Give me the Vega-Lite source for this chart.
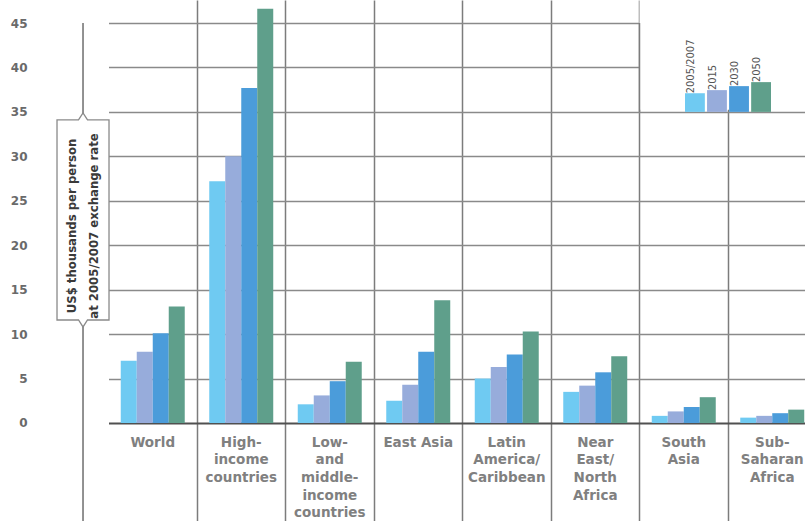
{
  "$schema": "https://vega.github.io/schema/vega-lite/v6.json",
  "width": 768,
  "height": 521,
  "autosize": "none",
  "padding": {"left": 37, "top": 0, "right": 0, "bottom": 0},
  "background": "white",
  "config": {"view": {"stroke": null}},
  "datasets": {
    "income": [
      {"region": "World", "year": "2005/2007", "value": 7.0},
      {"region": "World", "year": "2015", "value": 8.0},
      {"region": "World", "year": "2030", "value": 10.1},
      {"region": "World", "year": "2050", "value": 13.1},
      {"region": "High-\nincome\ncountries", "year": "2005/2007", "value": 27.2},
      {"region": "High-\nincome\ncountries", "year": "2015", "value": 30.0},
      {"region": "High-\nincome\ncountries", "year": "2030", "value": 37.7},
      {"region": "High-\nincome\ncountries", "year": "2050", "value": 46.6},
      {"region": "Low-\nand\nmiddle-\nincome\ncountries", "year": "2005/2007", "value": 2.1},
      {"region": "Low-\nand\nmiddle-\nincome\ncountries", "year": "2015", "value": 3.1},
      {"region": "Low-\nand\nmiddle-\nincome\ncountries", "year": "2030", "value": 4.7},
      {"region": "Low-\nand\nmiddle-\nincome\ncountries", "year": "2050", "value": 6.9},
      {"region": "East Asia", "year": "2005/2007", "value": 2.5},
      {"region": "East Asia", "year": "2015", "value": 4.3},
      {"region": "East Asia", "year": "2030", "value": 8.0},
      {"region": "East Asia", "year": "2050", "value": 13.8},
      {"region": "Latin\nAmerica/\nCaribbean", "year": "2005/2007", "value": 5.0},
      {"region": "Latin\nAmerica/\nCaribbean", "year": "2015", "value": 6.3},
      {"region": "Latin\nAmerica/\nCaribbean", "year": "2030", "value": 7.7},
      {"region": "Latin\nAmerica/\nCaribbean", "year": "2050", "value": 10.3},
      {"region": "Near\nEast/\nNorth\nAfrica", "year": "2005/2007", "value": 3.5},
      {"region": "Near\nEast/\nNorth\nAfrica", "year": "2015", "value": 4.2},
      {"region": "Near\nEast/\nNorth\nAfrica", "year": "2030", "value": 5.7},
      {"region": "Near\nEast/\nNorth\nAfrica", "year": "2050", "value": 7.5},
      {"region": "South\nAsia", "year": "2005/2007", "value": 0.8},
      {"region": "South\nAsia", "year": "2015", "value": 1.3},
      {"region": "South\nAsia", "year": "2030", "value": 1.8},
      {"region": "South\nAsia", "year": "2050", "value": 2.9},
      {"region": "Sub-\nSaharan\nAfrica", "year": "2005/2007", "value": 0.6},
      {"region": "Sub-\nSaharan\nAfrica", "year": "2015", "value": 0.8},
      {"region": "Sub-\nSaharan\nAfrica", "year": "2030", "value": 1.1},
      {"region": "Sub-\nSaharan\nAfrica", "year": "2050", "value": 1.5}
    ],
    "key": [
      {"year": "2005/2007", "top": 37.1},
      {"year": "2015", "top": 37.45},
      {"year": "2030", "top": 37.9},
      {"year": "2050", "top": 38.35}
    ]
  },
  "layer": [
    {
      "data": {"name": "income"},
      "encoding": {
        "x": {
          "field": "region",
          "type": "nominal",
          "sort": null,
          "scale": {"range": [71.5, 779.5], "paddingInner": 0, "paddingOuter": 0},
          "axis": {
            "orient": "bottom",
            "title": null,
            "domain": false,
            "ticks": false,
            "grid": true,
            "bandPosition": 0,
            "gridColor": "#7c7c7c",
            "gridWidth": 1.5,
            "gridOpacity": {"condition": {"test": "datum.value === 'World'", "value": 0}, "value": 1},
            "labelExpr": "split(datum.value, '\\n')",
            "labelAngle": 0,
            "labelAlign": "center",
            "labelBaseline": "top",
            "labelPadding": -86,
            "labelFont": "DejaVu Sans",
            "labelFontWeight": "bold",
            "labelFontSize": 13.5,
            "labelLineHeight": 17.7,
            "labelColor": "#808080",
            "labelOverlap": false,
            "labelBound": false
          }
        },
        "y": {
          "type": "quantitative",
          "scale": {"domain": [-11.03, 47.59], "nice": false, "zero": true},
          "axis": {
            "orient": "left",
            "title": null,
            "values": [0, 5, 10, 15, 20, 25, 30, 35, 40, 45],
            "domain": false,
            "ticks": false,
            "grid": true,
            "gridColor": {"condition": {"test": "datum.value === 0", "value": "#505050"}, "value": "#8a8a8a"},
            "gridWidth": {"condition": {"test": "datum.value === 0", "value": 2}, "value": 1.5},
            "labelPadding": 10,
            "labelFont": "DejaVu Sans",
            "labelFontWeight": "bold",
            "labelFontSize": 12,
            "labelColor": "#6a6a6a"
          }
        }
      },
      "layer": [
        {
          "mark": {"type": "bar"},
          "encoding": {
            "xOffset": {"field": "year", "type": "nominal", "sort": null, "scale": {"paddingInner": 0, "paddingOuter": 0.766}},
            "y": {"field": "value", "type": "quantitative"},
            "color": {
              "field": "year",
              "type": "nominal",
              "sort": null,
              "scale": {"domain": ["2005/2007", "2015", "2030", "2050"], "range": ["#6fcaf2", "#97acdb", "#4b9cda", "#5f9f8b"]},
              "legend": null
            }
          }
        },
        {
          "transform": [{"filter": "datum.year === '2005/2007' && (datum.region === 'South\\nAsia' || datum.region === 'Sub-\\nSaharan\\nAfrica')"}],
          "mark": {"type": "rect", "fill": "white"},
          "encoding": {
            "y": {"datum": 35.25},
            "y2": {"datum": 47.59}
          }
        },
        {
          "transform": [{"filter": "datum.year === '2005/2007' && datum.region === 'South\\nAsia'"}],
          "mark": {"type": "rule", "color": "#7c7c7c", "strokeWidth": 1.5},
          "encoding": {
            "x": {"field": "region", "type": "nominal", "bandPosition": 0},
            "y": {"datum": 35},
            "y2": {"datum": 45}
          }
        },
        {
          "transform": [{"filter": "datum.year === '2005/2007' && datum.region === 'World'"}],
          "mark": {"type": "rule", "color": "#6e6e6e", "strokeWidth": 1.5},
          "encoding": {
            "x": {"field": "region", "type": "nominal", "bandPosition": -0.288},
            "y": {"datum": 45},
            "y2": {"datum": -11.03}
          }
        },
        {
          "transform": [{"filter": "datum.year === '2005/2007' && datum.region === 'World'"}],
          "mark": {
            "type": "point",
            "shape": "M-0.243,-0.935L-0.042,-0.935L0,-1L0.042,-0.935L0.243,-0.935L0.243,0.935L0.042,0.935L0,1L-0.042,0.935L-0.243,0.935Z",
            "size": 45796,
            "filled": true,
            "fill": "white",
            "stroke": "#8a8a8a",
            "strokeWidth": 1.3,
            "opacity": 1
          },
          "encoding": {
            "x": {"field": "region", "type": "nominal", "bandPosition": -0.288},
            "y": {"datum": 22.84}
          }
        },
        {
          "transform": [{"filter": "datum.year === '2005/2007' && datum.region === 'World'"}],
          "mark": {
            "type": "text",
            "angle": 270,
            "align": "center",
            "baseline": "middle",
            "dx": -6,
            "dy": -11,
            "font": "DejaVu Sans Condensed, Liberation Sans Narrow, sans-serif",
            "fontSize": 13,
            "fontWeight": 600,
            "lineHeight": 22,
            "color": "#3a3a3a",
            "text": ["US$ thousands per person", "at 2005/2007 exchange rate"]
          },
          "encoding": {
            "x": {"field": "region", "type": "nominal", "bandPosition": -0.288},
            "y": {"datum": 22.84}
          }
        }
      ]
    },
    {
      "data": {"name": "key"},
      "encoding": {
        "x": {
          "field": "year",
          "type": "nominal",
          "sort": null,
          "scale": {"range": [648, 734], "paddingInner": 0.1, "paddingOuter": 0},
          "axis": null
        },
        "y": {
          "field": "top",
          "type": "quantitative",
          "scale": {"domain": [-11.03, 47.59], "nice": false, "zero": true},
          "axis": null
        }
      },
      "layer": [
        {
          "mark": {"type": "bar"},
          "encoding": {
            "y2": {"datum": 35},
            "color": {"field": "year", "type": "nominal", "sort": null, "legend": null}
          }
        },
        {
          "mark": {
            "type": "text",
            "angle": 270,
            "align": "left",
            "baseline": "middle",
            "dy": -4,
            "font": "DejaVu Sans Condensed, Liberation Sans Narrow, sans-serif",
            "fontSize": 11,
            "color": "#555555"
          },
          "encoding": {
            "text": {"field": "year", "type": "nominal"}
          }
        }
      ]
    }
  ],
  "resolve": {"scale": {"x": "independent", "y": "independent"}}
}
